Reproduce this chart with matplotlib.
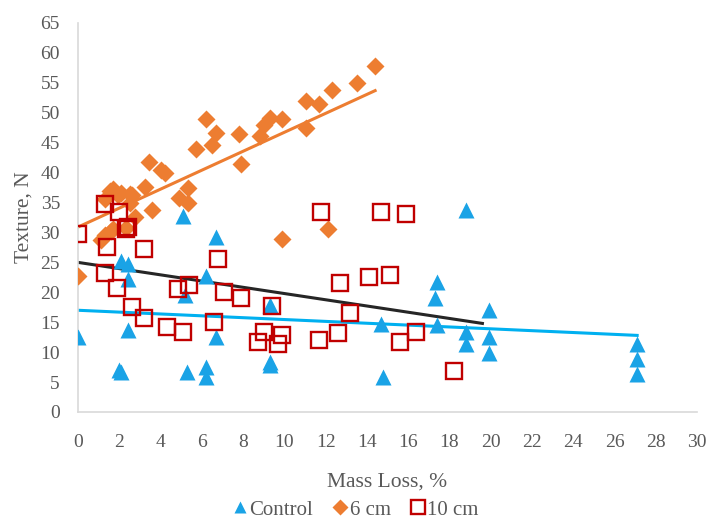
import matplotlib.pyplot as plt

plt.rcParams['font.family'] = ['Liberation Serif', 'DejaVu Serif']

# Control (triangles)
ctrl_x = [0, 2.0, 2.1, 2.1, 2.4, 2.4, 2.4, 5.1, 5.2, 5.3, 6.2, 6.2, 6.2, 6.7, 6.7,
          9.3, 9.3, 9.3, 14.7, 14.8, 17.3, 17.4, 17.4, 18.8, 18.8, 18.8,
          19.9, 19.9, 19.9, 27.1, 27.1, 27.1]
ctrl_y = [12.5, 7.0, 6.7, 25.3, 24.8, 22.2, 13.7, 32.8, 19.5, 6.7, 22.8, 7.6, 5.9, 29.2, 12.6,
          17.8, 8.4, 7.9, 14.7, 5.9, 19.0, 21.7, 14.5, 33.8, 13.4, 11.4,
          17.0, 12.6, 9.9, 11.4, 8.9, 6.3]

# 6 cm (diamonds)
cm6_x = [0, 1.1, 1.3, 1.3, 1.55, 1.6, 1.7, 1.7, 1.95, 2.1, 2.35, 2.5, 2.5, 2.6, 2.75,
         3.25, 3.45, 3.6, 4.0, 4.2, 4.9, 5.35, 5.35, 5.7, 6.2, 6.5, 6.7, 7.8, 7.9,
         8.8, 9.0, 9.3, 9.9, 9.9, 11.05, 11.05, 11.7, 12.1, 12.3, 13.5, 14.4]
cm6_y = [22.7, 28.8, 29.5, 35.6, 37.0, 30.3, 37.3, 30.6, 36.2, 36.6, 30.8, 36.4, 35.0, 36.2, 32.5,
         37.6, 41.8, 33.8, 40.4, 40.0, 35.7, 37.4, 35.0, 43.9, 48.9, 44.6, 46.7, 46.4, 41.4,
         46.2, 48.0, 49.1, 48.9, 28.9, 52.0, 47.4, 51.4, 30.6, 53.8, 54.9, 57.8]

# 10 cm (open squares)
cm10_x = [0, 1.3, 2.0, 2.35, 2.4, 1.4, 3.2, 6.8, 1.3, 1.9, 4.85, 5.4, 7.1, 7.9, 9.4,
          2.6, 3.2, 6.6, 4.3, 5.1, 9.0, 9.9, 8.7, 9.7, 11.7, 12.6, 12.7, 13.2,
          14.1, 15.1, 11.8, 14.7, 15.9, 16.4, 15.6, 18.2]
cm10_y = [29.8, 34.8, 33.4, 30.6, 30.9, 27.6, 27.3, 25.5, 23.3, 20.8, 20.6, 21.3, 20.1, 19.0, 17.7,
          17.6, 15.7, 15.1, 14.2, 13.4, 13.4, 12.8, 11.7, 11.3, 12.1, 13.2, 21.5, 16.5,
          22.6, 22.9, 33.4, 33.4, 33.1, 13.4, 11.7, 6.8]

# linear trend lines (end points)
trend_ctrl_x, trend_ctrl_y = [0, 27.1], [17.0, 12.8]
trend_6_x, trend_6_y = [0, 14.4], [30.9, 53.7]
trend_10_x, trend_10_y = [0, 19.6], [25.0, 14.8]

fig = plt.figure(figsize=(7.06, 5.23), dpi=100)
ax = fig.add_axes([78 / 706, 1 - 412 / 523, (697 - 78) / 706, (412 - 23) / 523])

ax.plot(ctrl_x, ctrl_y, '^', color='#1AA3E6', ms=11, mec='none', label='Control', zorder=3)
ax.plot(cm6_x, cm6_y, 'D', color='#ED7D31', ms=9, mec='none', label='6 cm', zorder=3)
ax.plot(cm10_x, cm10_y, 's', mfc='none', mec='#C00000', mew=1.7, ms=11.5, label='10 cm', zorder=4)

ax.plot(trend_ctrl_x, trend_ctrl_y, color='#00B0F0', lw=2.2, zorder=2)
ax.plot(trend_6_x, trend_6_y, color='#ED7D31', lw=2.2, zorder=2)
ax.plot(trend_10_x, trend_10_y, color='#262626', lw=2.2, zorder=2)

ax.set_xlim(0, 30)
ax.set_ylim(0, 65)
ax.set_xticks(range(0, 31, 2))
ax.set_yticks(range(0, 66, 5))
for s in ['top', 'right']:
    ax.spines[s].set_visible(False)
for s in ['left', 'bottom']:
    ax.spines[s].set_color('#D9D9D9')
    ax.spines[s].set_linewidth(1.2)
ax.tick_params(length=0, labelsize=14, labelcolor='#595959')
ax.tick_params(axis='y', pad=13)
ax.tick_params(axis='x', pad=16)

ax.set_xlabel('Mass Loss, %', fontsize=15.5, color='#595959', labelpad=15)
ax.set_ylabel('Texture, N', fontsize=15.5, color='#595959', labelpad=5)

fig.legend(loc='center', bbox_to_anchor=(356 / 706, 1 - 510 / 523), ncol=3, frameon=False,
           fontsize=15, labelcolor='#595959', handlelength=0.6, handletextpad=0.15,
           columnspacing=1.0, markerscale=0.85, borderpad=0)

fig.savefig('out.png', dpi=100)
